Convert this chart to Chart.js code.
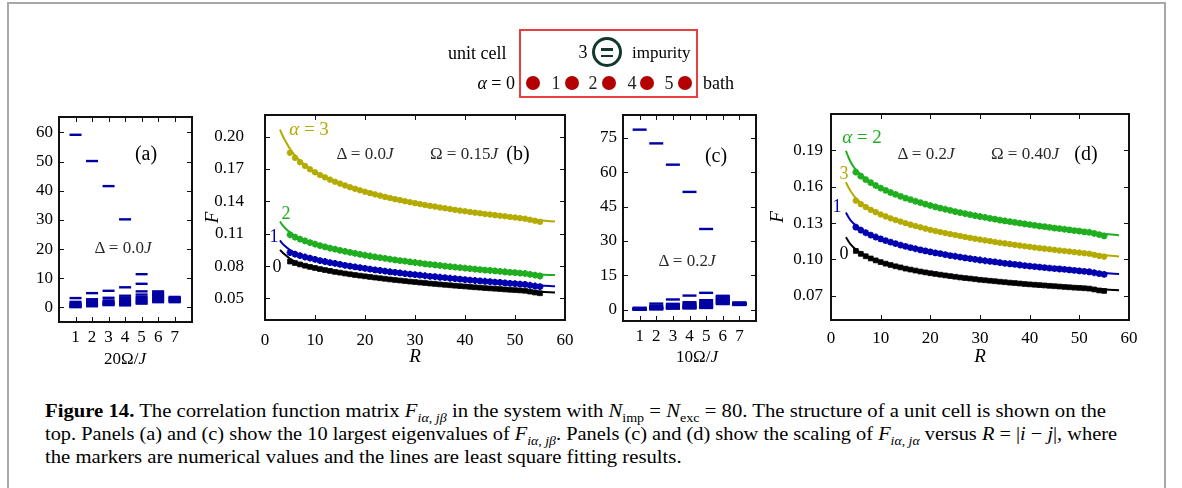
<!DOCTYPE html>
<html>
<head>
<meta charset="utf-8">
<title>Figure 14</title>
<script src="https://cdn.jsdelivr.net/npm/chart.js@4.4.1/dist/chart.umd.min.js"></script>
<style>
  body { margin: 0; background: #fff; }
  #page { position: relative; width: 1182px; height: 488px; overflow: hidden; background: #fff;
          font-family: 'Liberation Serif', 'Times New Roman', serif; color: #000; }
  .frame { position: absolute; left: 7px; top: 2px; width: 1155px; height: 500px;
           border: 2px solid #a8a8a8; border-bottom: none; }
  canvas.panel { position: absolute; }
  .box { position: absolute; box-sizing: border-box; border: 2px solid #111; }
  .tick { position: absolute; background: #111; }
  .t { position: absolute; white-space: nowrap; line-height: 1; }
  .cap { position: absolute; left: 45px; white-space: nowrap; font-size: 19px; line-height: 1;
         transform-origin: 0 50%; }
  sub { font-size: 0.68em; vertical-align: -0.35em; line-height: 0; }
  .dot { position: absolute; width: 14px; height: 14px; border-radius: 50%; background: #b30000; }
</style>
</head>
<body>
<div id="page">
  <div class="frame"></div>
</div>
<script>
// ---- data: panel (a), 10 largest eigenvalues for each 20Ω/J ----
var eigXA = [1, 2, 3, 4, 5, 6, 7];
var eigA = [
  [59.2, 3.2, 1.9, 1.5, 1.1, 0.8, 0.6, 0.4, 0.2, 0.1],
  [50.2, 4.9, 2.8, 2.2, 1.8, 1.4, 1.1, 0.9, 0.7, 0.4],
  [41.6, 5.7, 3.3, 2.4, 2.0, 1.7, 1.4, 1.2, 1.0, 0.8],
  [30.2, 6.9, 4.0, 3.2, 2.6, 2.1, 1.7, 1.3, 1.0, 0.7],
  [11.4, 8.1, 5.5, 4.4, 3.6, 3.1, 2.6, 2.1, 1.7, 1.3],
  [5.5, 5.1, 4.6, 4.2, 3.8, 3.4, 3.0, 2.6, 2.2, 1.8],
  [3.6, 3.4, 3.2, 3.0, 2.8, 2.6, 2.4, 2.2, 2.0, 1.8]
];
var ticksAx = [1, 2, 3, 4, 5, 6, 7];
var ticksAy = [0, 10, 20, 30, 40, 50, 60];

// ---- panel (c), 10 largest eigenvalues for each 10Ω/J ----
var eigXC = [1, 2, 3, 4, 5, 6, 7];
var eigC = [
  [78.6, 0.8, 0.6, 0.4, 0.3, 0.2, 0.1, 0.05, 0.02, 0.01],
  [72.6, 2.6, 1.7, 1.3, 1.0, 0.7, 0.5, 0.4, 0.2, 0.1],
  [63.3, 4.4, 2.5, 2.0, 1.6, 1.3, 1.0, 0.8, 0.6, 0.4],
  [51.4, 6.1, 3.2, 2.6, 2.1, 1.7, 1.3, 1.0, 0.7, 0.5],
  [35.2, 7.3, 4.1, 3.2, 2.7, 2.2, 1.8, 1.4, 1.0, 0.7],
  [6.0, 5.6, 5.2, 4.8, 4.4, 4.0, 3.6, 3.2, 2.8, 2.4],
  [3.1, 2.9, 2.8, 2.7, 2.6, 2.5, 2.4, 2.2, 2.1, 2.0]
];
var ticksCx = [1, 2, 3, 4, 5, 6, 7];
var ticksCy = [0, 15, 30, 45, 60, 75];

// ---- panels (b) and (d): F versus R, markers (numerics) ----
var rMarkers = [5, 6, 7, 8, 9, 10, 11, 12, 13, 14, 15, 16, 17, 18, 19, 20, 21, 22, 23, 24, 25,
  26, 27, 28, 29, 30, 31, 32, 33, 34, 35, 36, 37, 38, 39, 40, 41, 42, 43, 44, 45,
  46, 47, 48, 49, 50, 51, 52, 53, 54, 55];

var bAlpha3 = [.1850, .1803, .1763, .1728, .1697, .1669, .1644, .1622, .1601, .1582,
  .1564, .1547, .1531, .1516, .1502, .1489, .1476, .1464, .1453, .1441,
  .1431, .1420, .1411, .1401, .1392, .1383, .1374, .1366, .1358, .1351,
  .1343, .1336, .1328, .1321, .1314, .1308, .1301, .1295, .1289, .1283,
  .1278, .1272, .1266, .1261, .1255, .1250, .1244, .1239, .1229, .1220, .1210];
var bAlpha2 = [.1090, .1069, .1050, .1033, .1018, .1004, .0990, .0978, .0967, .0956,
  .0945, .0936, .0926, .0917, .0909, .0900, .0893, .0885, .0878, .0871,
  .0864, .0857, .0851, .0845, .0838, .0833, .0827, .0821, .0816, .0810,
  .0805, .0800, .0795, .0790, .0785, .0781, .0776, .0771, .0767, .0763,
  .0759, .0755, .0751, .0747, .0742, .0739, .0734, .0731, .0723, .0716, .0708];
var bAlpha1 = [.0925, .0910, .0897, .0884, .0873, .0862, .0851, .0842, .0832, .0824,
  .0815, .0807, .0799, .0792, .0785, .0778, .0771, .0765, .0759, .0753,
  .0747, .0741, .0736, .0730, .0725, .0720, .0715, .0710, .0705, .0701,
  .0696, .0692, .0687, .0683, .0678, .0674, .0670, .0666, .0663, .0659,
  .0655, .0651, .0648, .0644, .0640, .0637, .0633, .0630, .0622, .0615, .0609];
var bAlpha0 = [.0842, .0828, .0815, .0803, .0792, .0782, .0772, .0763, .0755, .0746,
  .0739, .0731, .0724, .0717, .0711, .0705, .0699, .0693, .0687, .0682,
  .0676, .0671, .0666, .0661, .0656, .0652, .0647, .0643, .0638, .0634,
  .0630, .0626, .0622, .0618, .0614, .0611, .0607, .0603, .0600, .0596,
  .0593, .0590, .0587, .0583, .0580, .0577, .0574, .0571, .0563, .0555, .0548];

var dAlpha2 = [.1720, .1687, .1658, .1633, .1610, .1589, .1570, .1552, .1536, .1521,
  .1506, .1493, .1480, .1468, .1456, .1445, .1434, .1424, .1414, .1405,
  .1395, .1386, .1378, .1370, .1362, .1354, .1347, .1339, .1332, .1325,
  .1318, .1312, .1305, .1299, .1293, .1287, .1281, .1275, .1270, .1264,
  .1259, .1254, .1249, .1243, .1238, .1234, .1228, .1224, .1214, .1205, .1195];
var dAlpha3 = [.1485, .1456, .1432, .1409, .1390, .1371, .1355, .1339, .1325, .1312,
  .1299, .1287, .1276, .1265, .1254, .1244, .1235, .1226, .1217, .1209,
  .1201, .1193, .1185, .1178, .1171, .1164, .1157, .1151, .1144, .1138,
  .1132, .1126, .1120, .1115, .1109, .1104, .1098, .1093, .1089, .1084,
  .1079, .1074, .1070, .1065, .1060, .1056, .1051, .1047, .1038, .1029, .1023];
var dAlpha1 = [.1266, .1242, .1220, .1201, .1185, .1169, .1155, .1142, .1130, .1118,
  .1108, .1098, .1088, .1079, .1070, .1062, .1054, .1047, .1040, .1032,
  .1026, .1019, .1013, .1007, .1001, .0995, .0989, .0984, .0979, .0974,
  .0968, .0964, .0959, .0954, .0949, .0945, .0941, .0936, .0932, .0928,
  .0924, .0921, .0917, .0913, .0909, .0905, .0901, .0898, .0890, .0882, .0876];
var dAlpha0 = [.1070, .1046, .1026, .1008, .0992, .0978, .0965, .0954, .0943, .0934,
  .0924, .0916, .0908, .0900, .0893, .0886, .0880, .0874, .0868, .0862,
  .0857, .0851, .0846, .0842, .0837, .0832, .0828, .0824, .0820, .0816,
  .0812, .0808, .0805, .0801, .0797, .0794, .0791, .0788, .0785, .0782,
  .0779, .0776, .0773, .0770, .0767, .0765, .0762, .0759, .0752, .0744, .0740];

// ---- least square fitting lines ----
var rFit = [3, 3.5, 4, 5, 6, 7, 8, 10, 12, 15, 20, 25, 30, 35, 40, 45, 50, 55, 58];
var bFit3 = [.2065, .2010, .1965, .1886, .1825, .1776, .1736, .1669, .1622, .1564, .1489, .1431, .1383, .1343, .1308, .1278, .1250, .1225, .1212];
var bFit2 = [.1213, .1180, .1153, .1112, .1080, .1055, .1036, .1004, .0978, .0945, .0900, .0864, .0833, .0805, .0781, .0759, .0739, .0722, .0716];
var bFit1 = [.1037, .1008, .0985, .0948, .0922, .0903, .0887, .0862, .0842, .0815, .0778, .0747, .0720, .0696, .0674, .0655, .0637, .0620, .0613];
var bFit0 = [.0950, .0925, .0905, .0868, .0842, .0822, .0806, .0782, .0763, .0739, .0705, .0676, .0652, .0630, .0611, .0593, .0577, .0562, .0556];
var dFit2 = [.1895, .1845, .1800, .1740, .1700, .1665, .1638, .1590, .1552, .1506, .1445, .1395, .1354, .1318, .1287, .1259, .1234, .1210, .1200];
var dFit3 = [.1637, .1595, .1560, .1505, .1468, .1440, .1415, .1372, .1339, .1299, .1244, .1201, .1164, .1132, .1104, .1079, .1056, .1035, .1025];
var dFit1 = [.1387, .1350, .1320, .1280, .1252, .1228, .1206, .1170, .1142, .1108, .1062, .1026, .0995, .0968, .0945, .0924, .0905, .0888, .0880];
var dFit0 = [.1183, .1150, .1122, .1082, .1055, .1032, .1012, .0978, .0954, .0924, .0886, .0857, .0832, .0812, .0794, .0779, .0765, .0752, .0745];

var ticksR = [0, 10, 20, 30, 40, 50, 60];
var ticksBy = [0.05, 0.08, 0.11, 0.14, 0.17, 0.20];
var ticksDy = [0.07, 0.10, 0.13, 0.16, 0.19];

// colours
var C_YEL = '#b3ab00', C_GRN = '#1fae1f', C_BLU = '#0000b0', C_BLK = '#000000', C_EIG = '#0000a3';
var SERIF = "'Liberation Serif', 'Times New Roman', serif";

var page = document.getElementById('page');
Chart.defaults.font.family = SERIF;

function addDiv(cls, l, t, w, h) {
  var d = document.createElement('div');
  d.className = cls;
  d.style.left = l + 'px'; d.style.top = t + 'px';
  d.style.width = w + 'px'; d.style.height = h + 'px';
  page.appendChild(d);
  return d;
}

// plot frame and inward ticks, placed with the chart's own scales
function drawFrame(chart, left, top) {
  var a = chart.chartArea, sx = chart.scales.x, sy = chart.scales.y, t = 5;
  addDiv('box', left + a.left - 1, top + a.top - 1, a.right - a.left + 2, a.bottom - a.top + 2);
  sx.ticks.forEach(function (tk) {
    var p = left + Math.round(sx.getPixelForValue(tk.value));
    addDiv('tick', p, top + a.bottom - t, 1, t);
    addDiv('tick', p, top + a.top, 1, t);
  });
  sy.ticks.forEach(function (tk) {
    var p = top + Math.round(sy.getPixelForValue(tk.value));
    addDiv('tick', left + a.left, p, t, 1);
    addDiv('tick', left + a.right - t, p, t, 1);
  });
}

function axis(min, max, tickVals, tickText, pad, fixed, isX, title) {
  return {
    type: 'linear', min: min, max: max,
    grid: { display: false, drawTicks: false, tickLength: 0 }, border: { display: false },
    afterBuildTicks: function (s) { s.ticks = tickVals.map(function (v) { return { value: v }; }); },
    afterFit: function (s) { if (isX) { s.height = fixed; } else { s.width = fixed; } },
    ticks: { padding: pad, color: '#000', autoSkip: false, maxRotation: 0,
      font: { family: SERIF, size: 17 },
      callback: function (v, i) { return tickText[i]; } },
    title: title || { display: false }
  };
}

function toPoints(xs, ys) {
  return xs.map(function (x, i) { return { x: x, y: ys[i] }; });
}

function eigPoints(xs, vals) {
  var out = [];
  xs.forEach(function (x, i) {
    vals[i].forEach(function (v) { out.push({ x: x, y: v }); });
  });
  return out;
}

function markerSet(ys, color, style, r) {
  return { data: toPoints(rMarkers, ys), showLine: false, pointStyle: style, pointRadius: r,
    pointBackgroundColor: color, pointBorderColor: color,
    pointBorderWidth: style === 'star' ? 2 : 0.8 };
}

function fitLine(ys, color) {
  return { data: toPoints(rFit, ys), showLine: true, borderColor: color, borderWidth: 2,
    pointRadius: 0, cubicInterpolationMode: 'monotone', fill: false };
}

function makePanel(left, top, w, h, pad, datasets, xs, ys) {
  var cv = document.createElement('canvas');
  cv.className = 'panel';
  cv.width = w; cv.height = h;
  cv.style.left = left + 'px'; cv.style.top = top + 'px';
  page.appendChild(cv);
  var chart = new Chart(cv.getContext('2d'), {
    type: 'scatter',
    data: { datasets: datasets },
    options: {
      responsive: false, animation: false, events: [],
      layout: { padding: pad },
      plugins: { legend: { display: false }, tooltip: { enabled: false } },
      scales: { x: xs, y: ys }
    }
  });
  drawFrame(chart, left, top);
  return chart;
}

var titleF = { display: true, text: 'F', color: '#000', padding: { top: 3.5, bottom: 0 },
  font: { family: SERIF, size: 19, style: 'italic', lineHeight: 1 } };
var titleR = { display: true, text: 'R', color: '#000', padding: { top: 0, bottom: 14 },
  font: { family: SERIF, size: 19, style: 'italic', lineHeight: 1 } };

// (a)
makePanel(0, 70, 205, 310, { top: 47, right: 13, left: 0, bottom: 0 },
  [{ data: eigPoints(eigXA, eigA), showLine: false, pointStyle: 'line', pointRadius: 6,
     pointBorderColor: C_EIG, pointBackgroundColor: C_EIG, pointBorderWidth: 2.4 }],
  axis(0, 8.05, ticksAx, ticksAx.map(String), 5, 58, true),
  axis(-5, 65.3, ticksAy, ticksAy.map(String), 6, 59, false));

// (b)
makePanel(200, 70, 385, 310, { top: 45, right: 20, left: 0, bottom: 0 },
  [markerSet(bAlpha3, C_YEL, 'circle', 2.8), markerSet(bAlpha2, C_GRN, 'star', 3.4),
   markerSet(bAlpha1, C_BLU, 'star', 3.4), markerSet(bAlpha0, C_BLK, 'rect', 3.4),
   fitLine(bFit3, C_YEL), fitLine(bFit2, C_GRN), fitLine(bFit1, C_BLU), fitLine(bFit0, C_BLK)],
  axis(0, 60, ticksR, ticksR.map(String), 10, 60, true, titleR),
  axis(0.03, 0.22, ticksBy, ticksBy.map(function (v) { return v.toFixed(2); }), 21, 65, false, titleF));

// (c)
makePanel(580, 70, 190, 310, { top: 45, right: 14, left: 0, bottom: 0 },
  [{ data: eigPoints(eigXC, eigC), showLine: false, pointStyle: 'line', pointRadius: 7,
     pointBorderColor: C_EIG, pointBackgroundColor: C_EIG, pointBorderWidth: 2.4 }],
  axis(0, 8, ticksCx, ticksCx.map(String), 5, 59, true),
  axis(-5, 85, ticksCy, ticksCy.map(String), 6, 43, false));

// (d)
makePanel(765, 70, 405, 310, { top: 44, right: 41, left: 0, bottom: 0 },
  [markerSet(dAlpha2, C_GRN, 'star', 3.4), markerSet(dAlpha3, C_YEL, 'circle', 2.8),
   markerSet(dAlpha1, C_BLU, 'star', 3.4), markerSet(dAlpha0, C_BLK, 'rect', 3.4),
   fitLine(dFit2, C_GRN), fitLine(dFit3, C_YEL), fitLine(dFit1, C_BLU), fitLine(dFit0, C_BLK)],
  axis(0, 60, ticksR, ticksR.map(String), 8, 60, true, titleR),
  axis(0.05, 0.22, ticksDy, ticksDy.map(function (v) { return v.toFixed(2); }), 8, 66, false,
    Object.assign({}, titleF)));

// text placed on the page; align: 'c' centre, 'l' left edge, 'r' right edge
function label(html, x, y, size, color, align) {
  var d = document.createElement('div');
  d.className = 't';
  d.innerHTML = html;
  d.style.left = x + 'px';
  d.style.top = y + 'px';
  d.style.fontSize = size + 'px';
  if (color) d.style.color = color;
  var tx = align === 'l' ? '0' : (align === 'r' ? '-100%' : '-50%');
  d.style.transform = 'translate(' + tx + ',-50%)';
  page.appendChild(d);
  return d;
}

// axis titles of the eigenvalue panels
label('20Ω/<i>J</i>', 125, 358, 17);
label('10Ω/<i>J</i>', 697, 356, 17);

// panel annotations
var GRAY = '#2a2a2a';
label('(a)', 146, 153, 20);
label('Δ = 0.0<i>J</i>', 123, 247, 17, GRAY);
label('<i>α</i> = 3', 309, 128, 19, C_YEL);
label('Δ = 0.0<i>J</i>', 365, 153, 17, GRAY);
label('Ω = 0.15<i>J</i>', 464, 153, 17, GRAY);
label('(b)', 518, 153, 20);
label('2', 286, 213, 18, C_GRN);
label('1', 274, 236, 18, C_BLU);
label('0', 277, 266, 18, '#000');
label('(c)', 716, 155, 20);
label('Δ = 0.2<i>J</i>', 687, 260, 17, GRAY);
label('<i>α</i> = 2', 862, 136, 19, C_GRN);
label('Δ = 0.2<i>J</i>', 926, 153, 17, GRAY);
label('Ω = 0.40<i>J</i>', 1025, 153, 17, GRAY);
label('(d)', 1086, 153, 20);
label('3', 844, 173, 18, C_YEL);
label('1', 837, 206, 18, C_BLU);
label('0', 844, 253, 18, '#000');

// unit cell sketch at the top
var cellBox = document.createElement('div');
cellBox.style.cssText = 'position:absolute;left:519px;top:29px;width:175px;height:65px;border:2px solid #e8403f;';
page.appendChild(cellBox);
label('unit cell', 448, 53, 18, null, 'l');
label('3', 583, 52, 18);
label('impurity', 632, 52, 17, null, 'l');
var ring = document.createElement('div');
ring.style.cssText = 'position:absolute;left:592px;top:37px;width:24px;height:24px;border:3px solid #13382a;border-radius:50%;';
page.appendChild(ring);
[48, 54.5].forEach(function (y) {
  var bar = document.createElement('div');
  bar.style.cssText = 'position:absolute;left:601px;width:12px;height:2.5px;background:#13382a;top:' + y + 'px;';
  page.appendChild(bar);
});
label('<i>α</i> = 0', 515, 83, 18, null, 'r');
var siteX = [533, 572, 609, 647, 685];
var siteNum = [['1', 556], ['2', 593], ['4', 632], ['5', 669]];
siteX.forEach(function (x) {
  var d = document.createElement('div');
  d.className = 'dot';
  d.style.left = (x - 7) + 'px';
  d.style.top = (83 - 7) + 'px';
  page.appendChild(d);
});
siteNum.forEach(function (s) { label(s[0], s[1], 83, 18, '#222'); });
label('bath', 703, 83, 18, null, 'l');

// caption, lines squeezed to the measured widths
var capLines = [
  '<b>Figure 14.</b> The correlation function matrix <i>F</i><sub><i>iα</i>, <i>jβ</i></sub> in the system with <i>N</i><sub>imp</sub> = <i>N</i><sub>exc</sub> = 80. The structure of a unit cell is shown on the',
  'top. Panels (a) and (c) show the 10 largest eigenvalues of <i>F</i><sub><i>iα</i>, <i>jβ</i></sub>. Panels (c) and (d) show the scaling of <i>F</i><sub><i>iα</i>, <i>jα</i></sub> versus <i>R</i> = |<i>i</i> − <i>j</i>|, where',
  'the markers are numerical values and the lines are least square fitting results.'
];
var capY = [410, 433, 456];
var capW = [1061, 1072, null];
var firstScale = 1;
capLines.forEach(function (h, i) {
  var d = document.createElement('div');
  d.className = 'cap';
  d.innerHTML = h;
  page.appendChild(d);
  d.style.top = (capY[i] - d.offsetHeight / 2) + 'px';
  var k = capW[i] ? capW[i] / d.getBoundingClientRect().width : firstScale;
  if (i === 0) firstScale = k;
  d.style.transform = 'scaleX(' + k + ')';
});
</script>
</body>
</html>
